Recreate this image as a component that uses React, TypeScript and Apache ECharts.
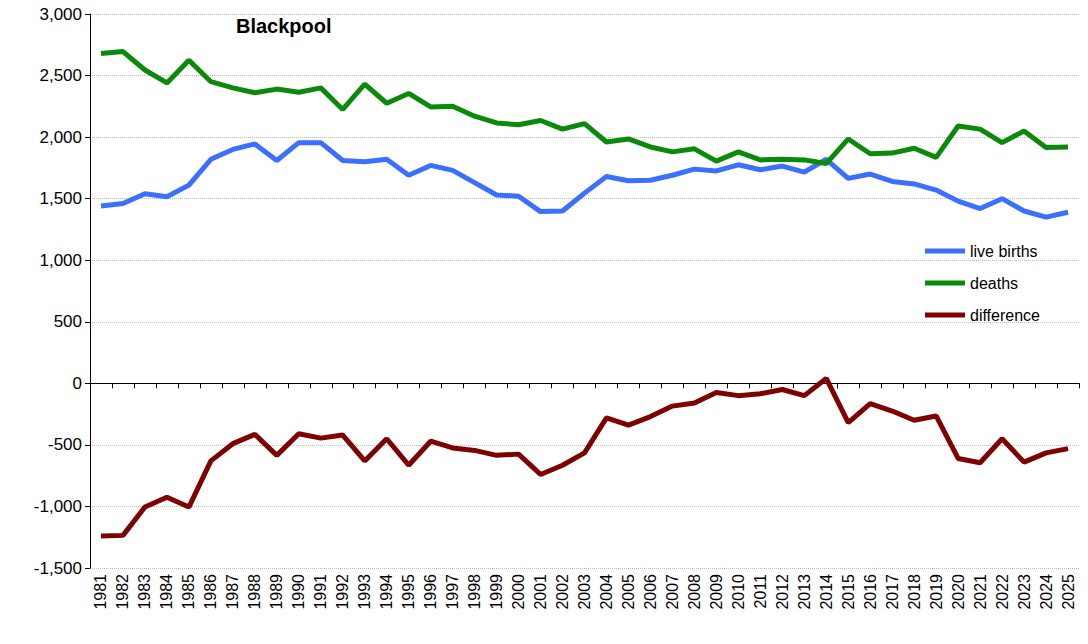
import React from 'react';
import * as echarts from 'echarts';

const years = Array.from({ length: 45 }, (_, i) => String(1981 + i));
const births = [1440, 1460, 1540, 1515, 1610, 1820, 1900, 1945, 1810, 1955, 1955, 1810, 1800, 1820, 1690, 1770, 1730, 1630, 1530, 1520, 1395, 1400, 1545, 1680, 1645, 1650, 1690, 1740, 1725, 1775, 1735, 1765, 1715, 1820, 1665, 1700, 1640, 1620, 1570, 1480, 1420, 1500, 1400, 1350, 1390];
const deaths = [2680, 2695, 2545, 2440, 2625, 2450, 2400, 2360, 2390, 2365, 2400, 2225, 2430, 2275, 2355, 2245, 2250, 2170, 2115, 2100, 2135, 2065, 2110, 1960, 1985, 1920, 1880, 1905, 1805, 1880, 1815, 1820, 1815, 1785, 1985, 1865, 1870, 1910, 1835, 2090, 2065, 1955, 2050, 1915, 1920];
const difference = [-1240, -1235, -1005, -925, -1005, -630, -490, -415, -585, -410, -445, -420, -630, -450, -665, -470, -525, -545, -585, -575, -740, -665, -565, -280, -340, -270, -185, -160, -75, -100, -85, -50, -100, 40, -320, -165, -225, -300, -265, -610, -645, -450, -640, -565, -530];

const font = 'Liberation Sans, Arial, sans-serif';

export default function App() {
  const ref = React.useRef<HTMLDivElement>(null);

  React.useEffect(() => {
    if (!ref.current) return;
    document.body.style.margin = '0';
    const chart = echarts.init(ref.current, undefined, { renderer: 'svg' });
    const line = (name: string, data: number[], color: string) => ({
      name, type: 'line', data, symbol: 'none', xAxisIndex: 0,
      lineStyle: { width: 5, color }, itemStyle: { color },
    });
    chart.setOption({
      animation: false,
      textStyle: { fontFamily: font },
      title: {
        text: 'Blackpool', left: 231, top: 11,
        textStyle: { fontSize: 20, fontWeight: 'bold', color: '#000', fontFamily: font },
      },
      legend: {
        orient: 'vertical', left: 920, top: 238, itemGap: 16,
        itemWidth: 40, itemHeight: 5, icon: 'rect',
        textStyle: { fontSize: 16, color: '#000', fontFamily: font },
        data: ['live births', 'deaths', 'difference'],
      },
      grid: { left: 90, right: 9, top: 14, bottom: 76 },
      xAxis: [
        {
          type: 'category', data: years, boundaryGap: true,
          axisLine: { onZero: true, lineStyle: { color: '#000' } },
          axisTick: { show: true, interval: 0, lineStyle: { color: '#000' } },
          axisLabel: { show: false },
        },
        {
          type: 'category', data: years, boundaryGap: true, position: 'bottom',
          axisLine: { show: false }, axisTick: { show: false },
          axisLabel: { interval: 0, rotate: 90, fontSize: 16, color: '#000', fontFamily: font, margin: 6 },
        },
      ],
      yAxis: {
        type: 'value', min: -1500, max: 3000, interval: 500,
        axisLine: { show: true, lineStyle: { color: '#000' } },
        axisTick: { show: true, lineStyle: { color: '#000' } },
        axisLabel: {
          fontSize: 17, color: '#000', fontFamily: font,
          formatter: (v: number) => v.toLocaleString('en-US'),
        },
        splitLine: { lineStyle: { color: '#bbb', type: 'dotted' } },
      },
      series: [
        line('live births', births, '#3a6fff'),
        line('deaths', deaths, '#0a8a0a'),
        line('difference', difference, '#7f0000'),
      ],
    });
    return () => chart.dispose();
  }, []);

  return <div ref={ref} style={{ width: 1088, height: 644 }} />;
}
